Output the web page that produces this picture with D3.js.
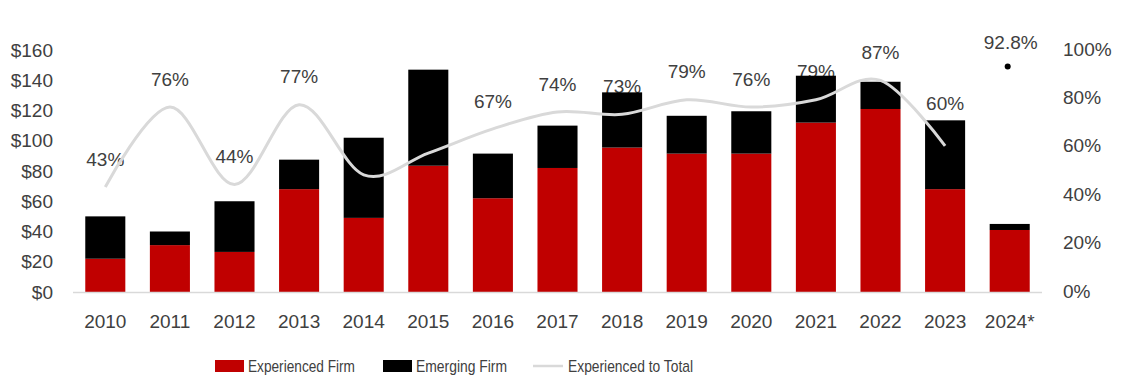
<!DOCTYPE html>
<html>
<head>
<meta charset="utf-8">
<script src="https://cdn.jsdelivr.net/npm/d3@7/dist/d3.min.js"></script>
<style>
  html, body { margin: 0; padding: 0; background: #fff; }
  svg { display: block; }
</style>
</head>
<body>
<svg id="chart" width="1128" height="379"></svg>
<script>
// ---- data ----
const years = ["2010","2011","2012","2013","2014","2015","2016","2017","2018","2019","2020","2021","2022","2023","2024*"];
const experienced = [22, 31, 26.5, 68, 49, 83.5, 62, 82, 95.5, 91.5, 91.5, 112, 121, 68, 41];
const emerging    = [28, 9, 33.5, 19.5, 53, 63.5, 29.5, 28, 36.5, 25, 28, 31, 18, 45.5, 4];
const ratioYears  = ["2010","2011","2012","2013","2014","2015","2016","2017","2018","2019","2020","2021","2022","2023"];
const ratio       = [0.43, 0.76, 0.44, 0.77, 0.48, 0.57, 0.67, 0.74, 0.73, 0.79, 0.76, 0.79, 0.87, 0.60];
const ratioLabels = ["43%","76%","44%","77%","","","67%","74%","73%","79%","76%","79%","87%","60%"];
const ytdYear = "2024*";
const ytdRatio = 0.928;
const ytdLabel = "92.8%";
const leftTicks  = [0, 20, 40, 60, 80, 100, 120, 140, 160];
const rightTicks = [0, 0.2, 0.4, 0.6, 0.8, 1.0];
const seriesNames = ["Experienced Firm", "Emerging Firm", "Experienced to Total"];

// ---- layout ----
const svg = d3.select("#chart");
const FONT = "'Liberation Sans', Arial, sans-serif";
const TXT = "#404040";
const RED = "#C00000", BLK = "#000000", LINE = "#d9d9d9";
const labelNudge = { "2023": -14 };

const x = d3.scaleBand().domain(years).range([73, 1042]).paddingInner(0.38).paddingOuter(0.19);
const y = d3.scaleLinear().domain([0, 160]).range([292, 50]);
const yR = d3.scaleLinear().domain([0, 1]).range([291, 49]);

// left axis
const gL = svg.append("g").attr("transform", "translate(53,0)")
  .call(d3.axisLeft(y).tickValues(leftTicks).tickSize(0).tickPadding(0).tickFormat(d => "$" + d));
gL.select(".domain").remove();
gL.selectAll("text").attr("font-family", FONT).attr("font-size", 19).attr("fill", TXT);

// right axis
const gR = svg.append("g").attr("transform", "translate(1063,0)")
  .call(d3.axisRight(yR).tickValues(rightTicks).tickSize(0).tickPadding(0).tickFormat(d3.format(".0%")));
gR.select(".domain").remove();
gR.selectAll("text").attr("font-family", FONT).attr("font-size", 19).attr("fill", TXT);

// ratio labels (drawn beneath bars, as in reference)
const lblData = ratioYears.map((yr, i) => ({ yr, v: ratio[i], t: ratioLabels[i] })).filter(d => d.t);
svg.append("g").selectAll("text").data(lblData).join("text")
  .attr("x", d => x(d.yr) + x.bandwidth() / 2)
  .attr("y", d => yR(d.v) - 28 + (labelNudge[d.yr] || 0))
  .attr("dy", "0.35em")
  .attr("text-anchor", "middle")
  .attr("font-family", FONT).attr("font-size", 19).attr("fill", TXT)
  .text(d => d.t);

// stacked bars
const rows = years.map((yr, i) => ({ year: yr, exp: experienced[i], emg: emerging[i] }));
const stack = d3.stack().keys(["exp", "emg"])(rows);
const colors = { exp: RED, emg: BLK };
svg.append("g").selectAll("g").data(stack).join("g")
  .attr("fill", s => colors[s.key])
  .selectAll("rect").data(s => s).join("rect")
  .attr("x", d => x(d.data.year))
  .attr("width", x.bandwidth())
  .attr("y", d => y(d[1]))
  .attr("height", d => y(d[0]) - y(d[1]));

// baseline
svg.append("line")
  .attr("x1", x.range()[0]).attr("x2", x.range()[1])
  .attr("y1", y(0) + 0.5).attr("y2", y(0) + 0.5)
  .attr("stroke", "#d9d9d9").attr("stroke-width", 1.5);

// ratio line
const line = d3.line()
  .x((d, i) => x(ratioYears[i]) + x.bandwidth() / 2)
  .y(d => yR(d))
  .curve(d3.curveCardinal.tension(0));
svg.append("path").datum(ratio)
  .attr("d", line)
  .attr("fill", "none").attr("stroke", LINE).attr("stroke-width", 3);

// YTD point
svg.append("circle")
  .attr("cx", x(ytdYear) + x.bandwidth() / 2 - 2)
  .attr("cy", yR(ytdRatio))
  .attr("r", 3).attr("fill", "#000");
svg.append("text")
  .attr("x", x(ytdYear) + x.bandwidth() / 2 + 1)
  .attr("y", yR(ytdRatio) - 24)
  .attr("dy", "0.35em").attr("text-anchor", "middle")
  .attr("font-family", FONT).attr("font-size", 19).attr("fill", TXT)
  .text(ytdLabel);

// x axis labels
svg.append("g").selectAll("text").data(years).join("text")
  .attr("x", d => x(d) + x.bandwidth() / 2)
  .attr("y", 321).attr("dy", "0.35em")
  .attr("text-anchor", "middle")
  .attr("font-family", FONT).attr("font-size", 19).attr("fill", TXT)
  .text(d => d);

// legend
const leg = svg.append("g");
const legItems = [
  { name: seriesNames[0], type: "rect", color: RED, x: 215, tx: 248, w: 107 },
  { name: seriesNames[1], type: "rect", color: BLK, x: 383, tx: 416, w: 91 },
  { name: seriesNames[2], type: "line", color: LINE, x: 533, tx: 568, w: 125 }
];
legItems.forEach(it => {
  if (it.type === "rect") {
    leg.append("rect").attr("x", it.x).attr("y", 360).attr("width", 29).attr("height", 12).attr("fill", it.color);
  } else {
    leg.append("line").attr("x1", it.x).attr("x2", it.x + 30).attr("y1", 366).attr("y2", 366)
      .attr("stroke", it.color).attr("stroke-width", 2.5);
  }
  leg.append("text").attr("x", it.tx).attr("y", 366).attr("dy", "0.35em")
    .attr("font-family", FONT).attr("font-size", 17).attr("fill", TXT)
    .attr("textLength", it.w).attr("lengthAdjust", "spacingAndGlyphs")
    .text(it.name);
});
</script>
</body>
</html>
